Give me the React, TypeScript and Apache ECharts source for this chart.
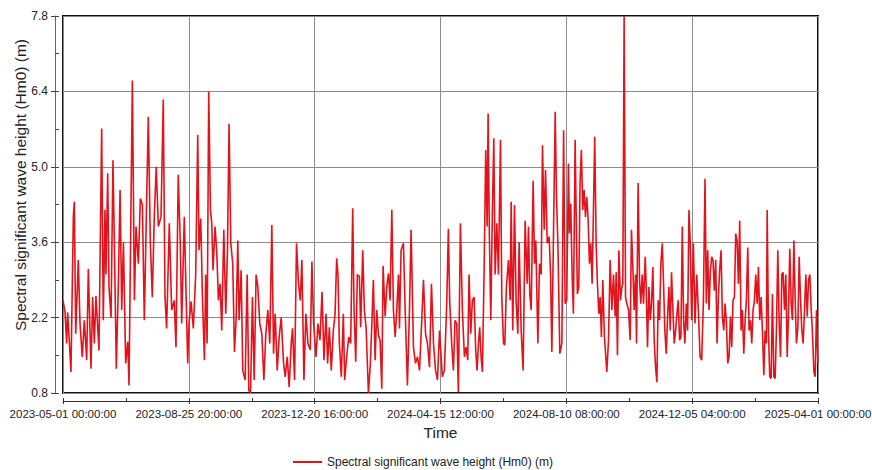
import React, { useEffect, useRef } from "react";
import * as echarts from "echarts";

// Time axis: hours since 2023-05-01 00:00:00 (UTC)
const START_UTC = Date.UTC(2023, 4, 1, 0, 0, 0);
const X_MAX_HOURS = 16824; // 2025-04-01 00:00:00
const X_TICK_HOURS = 2804; // 116 d 20 h

const Y_MIN = 0.8;
const Y_MAX = 7.8;
const Y_STEP = 1.4;

const SERIES_NAME = "Spectral significant wave height (Hm0) (m)";
const X_NAME = "Time";
const Y_NAME = "Spectral significant wave height (Hm0) (m)";

// sample times (days since start)
const sampleDays = [
  0, 1.9, 3.4, 4.3, 5.6, 7.4, 9.6, 10.5, 11.8, 14.2, 15.8, 17.9, 19.8, 22.0, 23.5, 26.0, 27.5, 29.1, 30.6, 33.4,
  35.9, 37.4, 39.0, 39.9, 41.5, 42.7, 44.6, 46.4, 47.7, 49.5, 51.4, 53.0, 54.5, 56.1, 58.2, 60.1, 61.3, 64.4, 66.3, 67.8,
  70.0, 71.8, 73.7, 75.5, 79.2, 81.1, 82.9, 84.8, 86.6, 88.5, 91.0, 93.1, 94.7, 96.2, 98.7, 100.9, 103.3, 104.9, 107.0, 108.9,
  110.2, 112.6,
  115.8, 117.0, 118.9, 121.0, 123.2, 125.1, 126.3, 127.9, 129.4, 131.3, 132.5, 133.8, 135.3, 136.9, 138.1, 139.3, 141.2, 142.8,
  144.3, 145.9, 147.4, 149.3, 151.1, 152.7, 154.2, 155.8, 157.6, 159.2, 160.7, 162.3, 163.5, 165.4, 166.9, 169.1, 171.0, 172.5,
  174.1, 175.9, 177.5, 179.3, 180.9, 182.7, 184.6, 186.5, 188.3, 190.2, 192.0, 193.9, 195.5, 197.0, 198.9, 200.7, 202.6, 204.8,
  206.3, 208.2, 210.0, 211.9, 213.1, 215.0, 216.8, 218.7, 220.3, 221.8, 223.7, 225.5, 227.4, 229.6, 231.1, 232.7,
  234.9, 236.7, 238.6, 240.5, 242.3, 244.2, 245.7, 247.3, 249.1, 251.0, 252.6, 254.1, 255.3, 256.6, 258.4, 260.3, 261.5, 263.4,
  265.3, 267.1, 269.0, 270.2, 271.8, 273.3, 275.2, 276.4, 278.3, 279.8, 281.4, 283.6, 285.4, 287.0, 288.2, 289.8, 291.3, 292.9,
  294.4, 296.0, 297.2, 299.1, 300.6, 302.2, 303.7, 305.3, 306.8, 308.4, 309.9, 311.5, 312.4, 313.9, 316.1, 317.7, 319.8, 321.7,
  323.2, 325.4, 327.3, 329.1, 331.0, 332.8, 334.7, 336.6, 338.4, 340.3, 342.1, 344.0, 345.9, 347.7, 349.6,
  352.2, 354.1, 356.3, 357.8, 359.0, 360.9, 362.5, 364.0, 365.6, 367.1, 369.0, 370.8, 372.7, 374.2, 375.8, 377.0, 378.6, 380.1,
  381.7, 383.2, 384.5, 385.7, 386.9, 388.2, 389.4, 391.0, 392.5, 393.8, 394.7, 395.9, 397.2, 398.7, 400.0, 401.2, 402.8, 404.3,
  406.2, 407.4, 409.0, 410.2, 411.7, 413.6, 415.2, 416.1, 417.6, 419.2, 420.7, 422.3, 423.5, 425.4, 427.2, 429.1, 431.0, 432.2,
  433.4, 434.7, 436.5, 437.8, 439.0, 440.9, 442.4, 444.0, 445.2, 446.8, 448.0, 449.6, 451.4, 452.7, 453.9, 455.5, 457.0, 458.2,
  459.5, 461.3, 463.2, 464.8,
  466.2, 467.7, 469.3, 470.2, 471.4, 472.7, 473.9, 475.5, 476.4, 477.6, 478.9, 480.1, 481.3, 482.6, 483.8, 485.1, 486.3, 487.5,
  488.8, 490.0, 491.3, 492.5, 493.7, 495.0, 496.2, 497.5, 498.7, 499.9, 501.2, 502.7, 504.0, 504.9, 506.5, 508.0, 509.6, 511.1,
  512.7, 513.6, 514.8, 516.1, 517.6, 518.9, 519.8, 521.0, 522.3, 523.5, 525.1, 526.6, 527.8, 529.1, 530.3, 531.6, 532.5, 534.0,
  535.3, 536.5, 537.8, 539.0, 540.6, 541.5, 542.7, 544.0, 545.2, 546.4, 547.7, 548.9, 550.2, 551.4, 552.6, 553.9, 555.1, 556.4,
  557.6, 558.8, 560.1, 561.3, 562.6, 563.8, 565.0, 566.3, 567.5, 568.8, 570.0, 571.2, 572.5, 573.7, 575.0, 576.2, 577.4, 578.7,
  579.9, 581.2, 582.4,
  583.7, 585.3, 586.8, 588.4, 589.9, 591.5, 593.0, 594.6, 596.1, 597.3, 598.6, 599.8, 601.1, 602.3, 603.5, 604.8, 606.0, 607.3,
  608.5, 609.7, 611.0, 612.2, 613.5, 614.7, 615.9, 617.2, 618.4, 619.7, 620.9, 622.1, 623.4, 624.6, 625.9, 627.1, 628.3, 629.6,
  630.8, 632.1, 633.3, 634.5, 635.8, 637.0, 638.3, 639.5, 640.7, 642.0, 643.2, 644.5, 645.7, 646.9, 648.2, 649.4, 650.7, 651.9,
  653.1, 653.8, 655.0, 656.2, 657.5, 658.7, 660.0, 661.2, 662.4, 663.7, 664.9, 666.2, 667.4, 668.6, 669.9, 671.1, 672.4, 673.6,
  674.8, 676.1, 677.3, 678.6, 679.8, 681.0, 682.3, 683.5, 684.8, 686.0, 687.2, 688.5, 689.7, 691.0, 692.2, 693.4, 694.7, 695.9,
  697.2, 698.4, 699.6, 700.9,
];

// Hm0 in metres at each sample time
const waveHeight = [
  2.52, 2.3, 1.72, 2.3, 1.85, 1.19, 4.07, 4.35, 1.9, 3.27, 2.09, 1.47, 2.15, 1.41, 3.1, 1.25, 2.58, 1.72, 2.6, 1.59,
  5.71, 2.15, 4.2, 3.0, 4.88, 2.77, 2.2, 5.12, 3.58, 1.25, 2.83, 4.57, 2.34, 3.6, 1.35, 1.75, 0.94, 6.6, 2.52, 3.89,
  3.2, 4.41, 4.3, 2.15, 5.93, 3.58, 2.58, 4.1, 5.0, 3.89, 4.07, 6.25, 2.58, 2.0, 3.95, 2.34, 2.52, 1.65, 4.85, 3.58,
  2.09, 4.07,
  1.35, 2.09, 2.5, 2.0, 3.0, 5.59, 3.45, 4.04, 2.64, 1.41, 3.0, 1.72, 6.4, 4.2, 3.95, 3.08, 3.89, 3.4,
  2.52, 2.83, 1.96, 3.83, 2.27, 3.45, 5.8, 3.58, 3.2, 1.56, 2.15, 3.63, 2.15, 3.08, 1.22, 1.04, 3.0, 0.85,
  0.8, 2.58, 1.04, 3.0, 2.77, 2.09, 1.9, 1.04, 1.9, 2.34, 1.72, 3.92, 1.53, 2.27, 1.22, 1.84, 2.2, 1.35,
  1.1, 1.47, 0.91, 1.72, 2.0, 1.04, 3.58, 2.83, 2.52, 3.27, 1.04, 2.27, 1.72, 1.6, 3.24, 2.09,
  1.47, 2.09, 1.78, 2.68, 1.41, 2.27, 1.35, 2.02, 1.22, 1.96, 2.27, 3.3, 3.0, 1.72, 1.1, 2.27, 1.04, 1.47,
  1.84, 1.72, 4.23, 2.4, 1.38, 3.0, 2.96, 2.02, 3.45, 2.34, 2.02, 0.8, 1.35, 2.22, 2.9, 1.41, 2.34, 1.87,
  1.78, 0.88, 3.16, 2.22, 2.77, 3.02, 2.52, 4.2, 2.34, 1.84, 2.34, 3.0, 2.0, 3.45, 3.58, 2.34, 0.94, 2.34,
  3.83, 1.65, 1.35, 1.47, 1.22, 2.02, 2.9, 1.9, 1.72, 1.28, 2.83, 1.72, 1.22, 1.04, 1.96,
  1.1, 1.22, 2.46, 3.85, 2.52, 1.72, 1.22, 2.15, 2.09, 0.82, 3.95, 2.34, 1.47, 1.65, 1.41, 3.0, 1.9, 2.52,
  2.58, 1.59, 1.22, 1.72, 2.02, 1.47, 1.19, 3.08, 5.31, 3.89, 5.99, 3.7, 2.15, 4.2, 5.53, 3.0, 3.95, 3.0,
  5.5, 2.58, 1.72, 1.69, 2.77, 3.27, 2.52, 4.35, 1.96, 4.29, 2.52, 1.9, 3.6, 1.96, 1.22, 4.0, 2.83, 3.89,
  2.64, 2.34, 4.74, 3.2, 3.63, 1.72, 3.2, 3.0, 5.4, 3.83, 4.94, 3.58, 3.7, 3.0, 1.56, 3.89, 6.02, 4.44,
  3.58, 1.53, 1.72, 5.68,
  2.46, 2.52, 5.06, 3.76, 4.32, 3.0, 2.27, 5.5, 4.2, 2.64, 2.77, 4.72, 5.31, 4.2, 4.57, 4.07, 4.44, 4.07,
  3.2, 3.58, 2.83, 4.2, 5.56, 3.58, 2.83, 2.27, 2.58, 1.84, 2.9, 1.84, 1.47, 1.19, 1.78, 3.27, 2.34, 3.0,
  2.22, 3.04, 1.5, 3.45, 2.52, 2.77, 2.83, 7.8, 2.58, 2.46, 2.34, 1.78, 3.83, 3.14, 2.34, 3.0, 1.72, 4.7,
  2.9, 2.46, 3.0, 2.46, 3.33, 2.77, 1.65, 2.77, 2.15, 2.46, 3.14, 1.78, 1.28, 1.0, 2.52, 2.15, 3.2, 3.58,
  2.83, 1.96, 1.53, 2.2, 2.77, 1.96, 3.04, 2.34, 1.72, 1.96, 2.27, 2.52, 1.78, 1.84, 3.89, 2.15, 1.72, 2.46,
  1.96, 4.2, 3.58,
  2.15, 3.58, 2.09, 3.0, 2.34, 1.47, 1.41, 2.52, 4.78, 2.46, 3.45, 2.34, 3.08, 3.33, 3.27, 2.7, 3.27, 1.72,
  2.58, 3.08, 3.45, 2.22, 1.96, 2.46, 2.15, 1.35, 1.47, 2.22, 1.65, 2.52, 2.58, 3.76, 3.63, 2.83, 4.0, 1.96,
  2.34, 1.53, 2.15, 2.52, 3.5, 1.96, 2.15, 1.72, 2.34, 2.52, 3.0, 2.46, 3.14, 2.15, 2.58, 1.96, 1.13, 1.96,
  1.72, 4.2, 1.96, 1.1, 1.07, 2.64, 1.1, 1.07, 1.96, 3.45, 2.15, 1.47, 3.0, 3.04, 2.34, 3.0, 1.47, 2.27,
  3.48, 2.46, 2.15, 3.63, 2.52, 1.72, 2.02, 3.33, 2.52, 1.96, 1.72, 2.34, 3.0, 2.22, 2.9, 3.0, 2.34, 1.9,
  1.19, 1.1, 2.34, 1.35,
];

const pad = (n: number) => String(n).padStart(2, "0");
function formatHours(h: number): string {
  const d = new Date(START_UTC + Math.round(h) * 3600000);
  return (
    d.getUTCFullYear() + "-" + pad(d.getUTCMonth() + 1) + "-" + pad(d.getUTCDate()) + " " +
    pad(d.getUTCHours()) + ":" + pad(d.getUTCMinutes()) + ":" + pad(d.getUTCSeconds())
  );
}

const FONT = "'Liberation Sans', Arial, sans-serif";

export default function App() {
  const ref = useRef<HTMLDivElement>(null);
  useEffect(() => {
    document.body.style.margin = "0";
    if (!ref.current) return;
    const chart = echarts.init(ref.current, null, { renderer: "svg" });
    const data = sampleDays.map((d, i) => [d * 24, waveHeight[i]]);
    const axisColor = "#333";
    const gridColor = "#8c8c8c";
    chart.setOption({
      animation: false,
      backgroundColor: "#fff",
      textStyle: { fontFamily: FONT },
      grid: {
        left: 63, right: 54, top: 16, bottom: 77,
        outerBoundsMode: "none", containLabel: false,
        show: true, borderColor: "#111", borderWidth: 2, backgroundColor: "transparent",
      },
      legend: {
        show: true, left: 288, top: 451, itemWidth: 29, itemHeight: 2, icon: "rect", itemGap: 10,
        textStyle: { fontFamily: FONT, fontSize: 12, color: "#222", padding: [0, 0, 0, 0] },
        data: [SERIES_NAME],
      },
      graphic: [
        {
          type: "text", x: 20, y: 185, rotation: Math.PI / 2, silent: true,
          style: {
            text: Y_NAME, fontFamily: FONT, fontSize: 15.5, fill: "#222",
            align: "center", verticalAlign: "middle",
          },
        },
      ],
      xAxis: [
        {
          type: "value", min: 0, max: X_MAX_HOURS, interval: X_TICK_HOURS, position: "bottom", offset: 8,
          name: X_NAME, nameLocation: "middle", nameGap: 19,
          nameTextStyle: { fontSize: 15.5, color: "#222", fontFamily: FONT },
          axisLine: { show: true, onZero: false, lineStyle: { color: axisColor, width: 1 } },
          axisTick: { show: true, length: 3, lineStyle: { color: axisColor } },
          axisLabel: {
            formatter: (v: number) => formatHours(v), fontFamily: FONT, fontSize: 11.5, color: "#222",
            margin: 7, showMinLabel: true, showMaxLabel: true, hideOverlap: false,
          },
          splitLine: { show: true, lineStyle: { color: gridColor, width: 1 } },
        },
        {
          type: "value", min: 0, max: X_MAX_HOURS, interval: X_TICK_HOURS, position: "bottom", offset: 8,
          axisLine: { show: false, onZero: false },
          axisTick: { show: true, inside: true, length: 3, lineStyle: { color: axisColor } },
          minorTick: { show: true, splitNumber: 2, length: 3, lineStyle: { color: axisColor } },
          axisLabel: { show: false }, splitLine: { show: false },
        },
      ],
      yAxis: [
        {
          type: "value", min: Y_MIN, max: Y_MAX, interval: Y_STEP, position: "left", offset: 8,
          axisLine: { show: true, onZero: false, lineStyle: { color: "#666", width: 1 } },
          axisTick: { show: true, length: 4, lineStyle: { color: "#444" } },
          axisLabel: {
            formatter: (v: number) => v.toFixed(1), fontFamily: FONT, fontSize: 12, color: "#222", margin: 7,
            showMinLabel: true, showMaxLabel: true,
          },
          splitLine: { show: true, lineStyle: { color: gridColor, width: 1 } },
        },
        {
          type: "value", min: Y_MIN, max: Y_MAX, interval: Y_STEP, position: "left", offset: 8,
          axisLine: { show: false, onZero: false },
          axisTick: { show: true, inside: true, length: 4, lineStyle: { color: "#444" } },
          minorTick: { show: true, splitNumber: 2, length: 4, lineStyle: { color: "#444" } },
          axisLabel: { show: false }, splitLine: { show: false },
        },
      ],
      series: [
        {
          name: SERIES_NAME, type: "line", data, xAxisIndex: 0, yAxisIndex: 0,
          symbol: "none", showSymbol: false, clip: true,
          lineStyle: { color: "#e3121b", width: 1.6 },
          itemStyle: { color: "#e3121b" },
        },
      ],
    });
    return () => chart.dispose();
  }, []);
  return <div ref={ref} style={{ position: "fixed", left: 0, top: 0, width: 872, height: 470 }} />;
}
